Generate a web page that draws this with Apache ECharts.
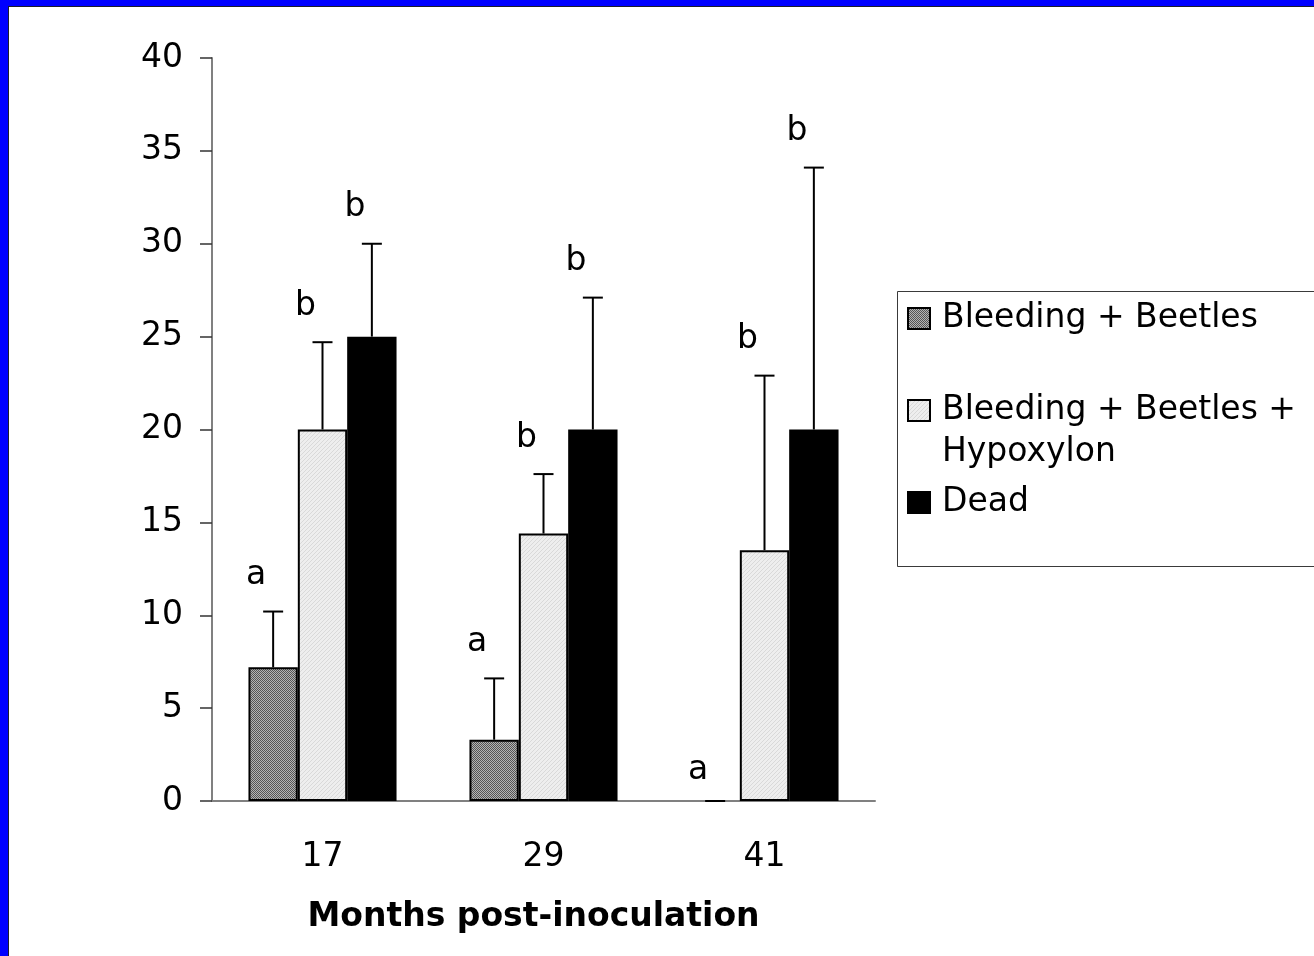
<!DOCTYPE html>
<html>
<head>
<meta charset="utf-8">
<title>Bleeding, beetles and Hypoxylon after inoculation</title>
<script src="https://cdn.jsdelivr.net/npm/echarts@6/dist/echarts.min.js"></script>
<style>
  html, body { margin: 0; padding: 0; background: #0000ff; width: 1314px; height: 956px; overflow: hidden; }
  #paper { position: absolute; left: 8px; top: 6px; width: 1306px; height: 950px; background: #fff;
           border-left: 1px solid #1c1c2c; border-top: 1px solid #1c1c2c; box-sizing: border-box; }
  #chart { position: absolute; left: 0; top: 0; width: 1314px; height: 956px; }
</style>
</head>
<body>
<div id="paper"></div>
<div id="chart"></div>
<script>
// Months after inoculation (x categories)
const months = ['17', '29', '41'];
// Series names
const seriesNames = ['Bleeding + Beetles', 'Bleeding + Beetles + Hypoxylon', 'Dead'];
// Mean values per month
const bleedingBeetles = [7.2, 3.3, 0];
const bleedingBeetlesHypoxylon = [20, 14.4, 13.5];
const dead = [25, 20, 20];
// Upper error (standard error) per month
const bleedingBeetlesErr = [3.0, 3.3, 0];
const bleedingBeetlesHypoxylonErr = [4.7, 3.2, 9.4];
const deadErr = [5.0, 7.1, 14.1];
// Significance letters above each bar
const bleedingBeetlesLetters = ['a', 'a', 'a'];
const bleedingBeetlesHypoxylonLetters = ['b', 'b', 'b'];
const deadLetters = ['b', 'b', 'b'];
// Y axis ticks
const yTicks = [0, 5, 10, 15, 20, 25, 30, 35, 40];

const FONT = 'DejaVu Sans';
const FS = 33;
const CAT_GAP = 0.33;

// small repeating fill patterns for the shaded bars
function makePattern(size, painter) {
  const c = document.createElement('canvas');
  c.width = size; c.height = size;
  const g = c.getContext('2d');
  painter(g);
  return { image: c, repeat: 'repeat' };
}
const darkDither = makePattern(2, g => {
  g.fillStyle = '#b4b4b4'; g.fillRect(0, 0, 2, 2);
  g.fillStyle = '#555555'; g.fillRect(0, 0, 1, 1); g.fillRect(1, 1, 1, 1);
});
const lightDither = makePattern(4, g => {
  g.fillStyle = '#eeeeee'; g.fillRect(0, 0, 4, 4);
  g.fillStyle = '#d9d9d9';
  for (let i = 0; i < 4; i++) g.fillRect(i, 3 - i, 1, 1);
});
const fills = [darkDither, lightDither, '#000000'];

const values = [bleedingBeetles, bleedingBeetlesHypoxylon, dead];
const errors = [bleedingBeetlesErr, bleedingBeetlesHypoxylonErr, deadErr];
const letters = [bleedingBeetlesLetters, bleedingBeetlesHypoxylonLetters, deadLetters];

const chart = echarts.init(document.getElementById('chart'), null, { renderer: 'canvas' });

const barSeries = values.map((vals, i) => ({
  type: 'bar',
  name: seriesNames[i],
  // a zero-height bar shows no outline
  data: vals.map(v => (v === 0 ? { value: v, itemStyle: { borderWidth: 0 } } : v)),
  barGap: '0%',
  barCategoryGap: (CAT_GAP * 100) + '%',
  itemStyle: { color: fills[i], borderColor: '#000', borderWidth: 2 },
  emphasis: { disabled: true },
  z: 2
}));

// upward error bar with a cap, plus the letter above it
function errorSeries(i) {
  return {
    type: 'custom',
    name: seriesNames[i] + ' error',
    data: values[i].map((v, k) => [k, v, errors[i][k]]),
    z: 3,
    silent: true,
    renderItem: function (params, api) {
      const k = api.value(0);
      const v = api.value(1);
      const e = api.value(2);
      const band = api.size([1, 0])[0];
      const barW = band * (1 - CAT_GAP) / 3;
      const base = api.coord([k, v]);
      const top = api.coord([k, v + e]);
      const x = base[0] + (i - 1) * barW;
      const half = 10;
      const children = [];
      if (e > 0) {
        children.push({
          type: 'line',
          shape: { x1: x, y1: base[1], x2: x, y2: top[1] },
          style: { stroke: '#000', lineWidth: 2 }
        });
      }
      children.push({
        type: 'line',
        shape: { x1: x - half, y1: top[1], x2: x + half, y2: top[1] },
        style: { stroke: '#000', lineWidth: 2 }
      });
      children.push({
        type: 'text',
        style: {
          x: x - 17, y: top[1] - (e > 0 ? 36 : 31),
          text: letters[i][k],
          fill: '#000',
          font: FS + 'px "' + FONT + '"',
          textAlign: 'center',
          textVerticalAlign: 'middle'
        }
      });
      return { type: 'group', children: children };
    }
  };
}

// legend box drawn as graphics so the wrapped entry keeps its icon on the first line
const legendX = 897, legendY = 291;
const legendRows = [
  { lines: ['Bleeding + Beetles'], y: 318 },
  { lines: ['Bleeding + Beetles +', 'Hypoxylon'], y: 410 },
  { lines: ['Dead'], y: 502 }
];
const legendGraphics = [{
  type: 'rect',
  shape: { x: legendX + 0.5, y: legendY + 0.5, width: 520, height: 275 },
  style: { fill: '#fff', stroke: '#3a3a3a', lineWidth: 1 },
  z: 10
}];
legendRows.forEach((row, i) => {
  legendGraphics.push({
    type: 'rect',
    shape: { x: 908, y: row.y - 10, width: 22, height: 21 },
    style: { fill: fills[i], stroke: '#000', lineWidth: 2 },
    z: 11
  });
  legendGraphics.push({
    type: 'text',
    style: {
      x: 942, y: row.y - 21,
      text: row.lines.join('\n'),
      font: FS + 'px "' + FONT + '"',
      lineHeight: 42,
      fill: '#000',
      textVerticalAlign: 'top'
    },
    z: 11
  });
});

chart.setOption({
  animation: false,
  textStyle: { fontFamily: FONT },
  grid: { left: 212, top: 58, right: 1314 - 875, bottom: 956 - 801, containLabel: false },
  xAxis: {
    type: 'category',
    data: months,
    name: 'Months post-inoculation',
    nameLocation: 'middle',
    nameGap: 100,
    nameTextStyle: { fontFamily: FONT, fontSize: FS, fontWeight: 'bold', color: '#000', padding: [0, 20, 0, 0] },
    axisLine: { lineStyle: { color: '#808080', width: 2 } },
    axisTick: { length: 12, lineStyle: { color: '#333', width: 1.5 } },
    axisLabel: { fontFamily: FONT, fontSize: FS, color: '#000', margin: 40 }
  },
  yAxis: {
    type: 'value',
    min: yTicks[0],
    max: yTicks[yTicks.length - 1],
    interval: yTicks[1] - yTicks[0],
    splitLine: { show: false },
    axisLine: { show: true, lineStyle: { color: '#808080', width: 2 } },
    axisTick: { show: true, length: 12, lineStyle: { color: '#333', width: 1.5 } },
    axisLabel: { fontFamily: FONT, fontSize: FS, color: '#000', margin: 29 }
  },
  series: barSeries.concat([errorSeries(0), errorSeries(1), errorSeries(2)]),
  graphic: legendGraphics
});
</script>
</body>
</html>
